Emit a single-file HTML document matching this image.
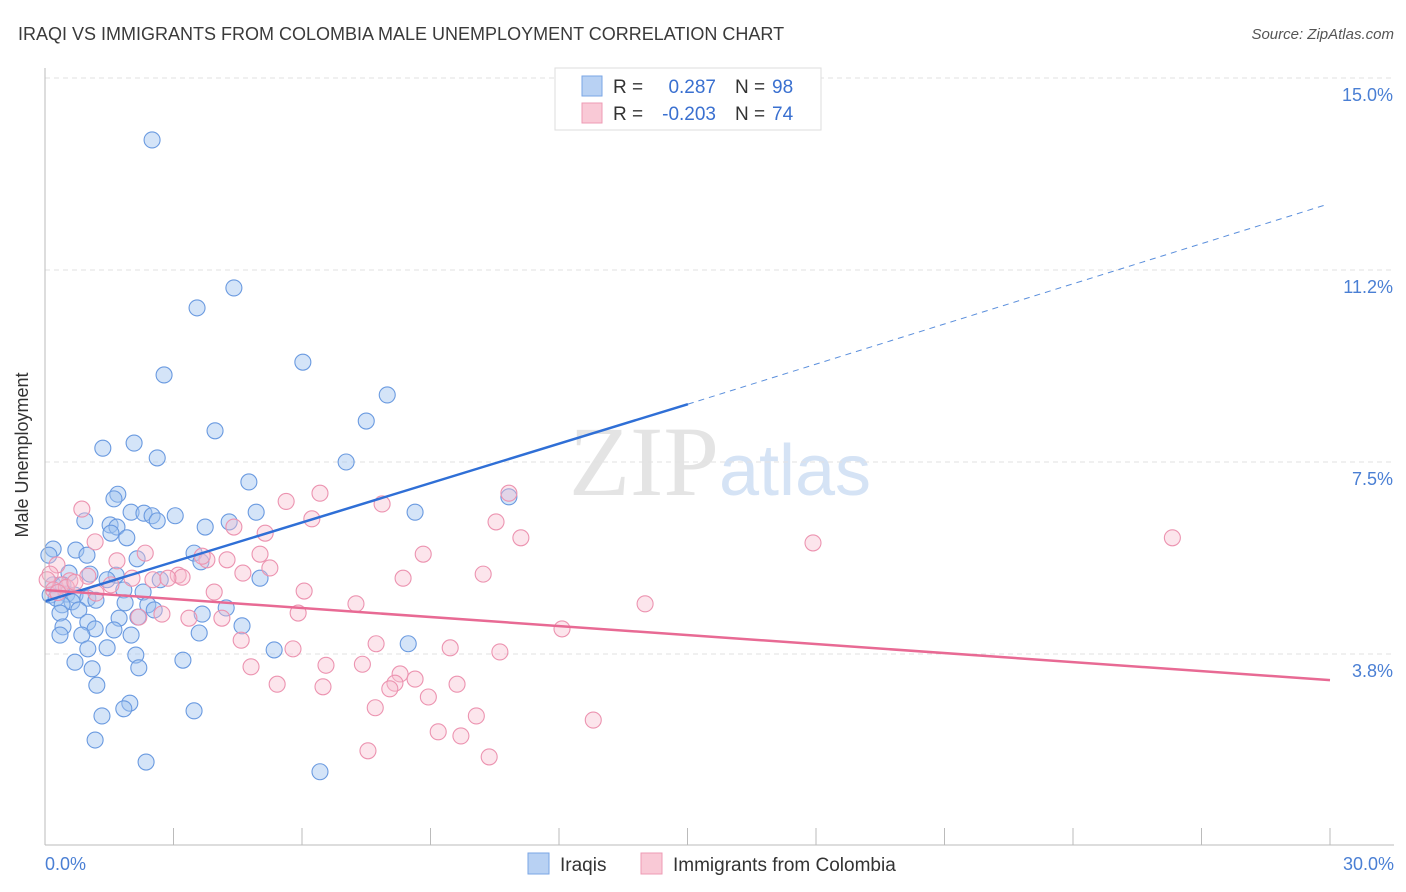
<!DOCTYPE html>
<html><head><meta charset="utf-8"><style>
body{margin:0;background:#fff;font-family:"Liberation Sans",sans-serif;}
svg{display:block}
</style></head><body>
<svg id="chart" width="1406" height="892" xmlns="http://www.w3.org/2000/svg">
<text x="18" y="40" font-size="18" fill="#3a3a3a">IRAQI VS IMMIGRANTS FROM COLOMBIA MALE UNEMPLOYMENT CORRELATION CHART</text>
<text x="1394" y="39" font-size="15" fill="#555" text-anchor="end" font-style="italic">Source: ZipAtlas.com</text>
<text x="28" y="455" font-size="18" fill="#333" text-anchor="middle" transform="rotate(-90 28 455)">Male Unemployment</text>
<text x="720" y="495" font-size="100" fill="#e4e4e4" text-anchor="middle" font-family="Liberation Serif,serif">ZIP<tspan fill="#d5e3f5" font-family="Liberation Sans,sans-serif" font-size="72">atlas</tspan></text>
<g id="grid"></g><g id="pts"></g><g id="lines"></g>
<line x1="45" y1="68" x2="45" y2="845" stroke="#bbb"/>
<line x1="45" y1="845" x2="1394" y2="845" stroke="#bbb"/>
<text x="45" y="870" font-size="18" fill="#4a7fd4">0.0%</text>
<text x="1394" y="870" font-size="18" fill="#4a7fd4" text-anchor="end">30.0%</text>
<g>
<rect x="555" y="68" width="266" height="62" fill="#fff" stroke="#ddd"/>
<rect x="582" y="76" width="20" height="20" fill="#b8d1f3" stroke="#7aa6e6"/>
<rect x="582" y="103" width="20" height="20" fill="#f9c9d6" stroke="#ee9bb4"/>
<text x="613" y="93" font-size="19" fill="#333">R =</text><text x="716" y="93" font-size="19" fill="#3a70d0" text-anchor="end">0.287</text>
<text x="735" y="93" font-size="19" fill="#333">N =</text><text x="772" y="93" font-size="19" fill="#3a70d0">98</text>
<text x="613" y="120" font-size="19" fill="#333">R =</text><text x="716" y="120" font-size="19" fill="#3a70d0" text-anchor="end">-0.203</text>
<text x="735" y="120" font-size="19" fill="#333">N =</text><text x="772" y="120" font-size="19" fill="#3a70d0">74</text>
</g>
<g>
<rect x="528" y="853" width="21" height="21" fill="#b8d1f3" stroke="#7aa6e6"/>
<text x="560" y="871" font-size="19" fill="#333">Iraqis</text>
<rect x="641" y="853" width="21" height="21" fill="#f9c9d6" stroke="#ee9bb4"/>
<text x="673" y="871" font-size="19" fill="#333">Immigrants from Colombia</text>
</g>
</svg>
<script>
const yTicks=[3.8,7.5,11.2,15.0];
const yTickVals=[3.75,7.5,11.25,15.0];
const xTicks=[0,3,6,9,12,15,18,21,24,27,30];
const iraqiX=[2.50,4.41,3.55,6.02,2.78,7.99,7.50,3.97,2.08,1.35,2.62,7.03,4.76,1.70,1.61,10.83,8.64,4.93,2.01,2.31,2.50,3.04,2.62,0.93,4.30,3.74,1.52,1.68,1.54,1.91,0.19,0.72,0.09,0.98,2.15,3.48,3.64,0.56,1.05,1.66,5.02,1.45,0.19,0.42,2.69,1.84,2.29,0.51,0.70,0.12,0.26,1.00,1.19,0.63,0.40,1.87,2.40,2.55,4.23,0.35,0.79,3.67,1.73,2.17,1.00,0.42,1.17,4.60,0.86,0.35,1.61,2.01,3.60,8.48,5.35,1.00,1.45,2.12,0.70,3.22,1.10,2.19,1.21,1.98,1.33,1.84,3.48,1.17,2.36,6.42];
const iraqiY=[13.79,10.90,10.51,9.45,9.20,8.81,8.30,8.11,7.87,7.77,7.58,7.50,7.11,6.87,6.78,6.82,6.52,6.52,6.52,6.50,6.45,6.45,6.35,6.35,6.33,6.23,6.27,6.23,6.11,6.02,5.80,5.78,5.68,5.68,5.61,5.72,5.55,5.33,5.31,5.29,5.23,5.20,5.10,5.10,5.20,5.00,4.96,4.92,4.90,4.90,4.84,4.84,4.80,4.77,4.71,4.75,4.71,4.61,4.65,4.55,4.61,4.53,4.45,4.47,4.37,4.28,4.24,4.30,4.12,4.12,4.22,4.12,4.16,3.95,3.83,3.85,3.87,3.73,3.59,3.63,3.46,3.48,3.14,2.79,2.54,2.68,2.64,2.07,1.64,1.45];
const colX=[0.86,6.42,5.63,6.23,7.87,10.83,10.53,11.11,4.41,5.14,1.17,17.93,26.32,2.34,3.78,3.67,4.25,5.02,8.83,1.68,0.28,5.25,3.11,3.20,4.62,1.00,2.03,8.36,10.23,0.12,0.58,2.52,2.87,1.54,0.37,6.05,3.95,1.19,14.01,7.26,5.91,2.73,3.36,4.13,2.19,12.07,4.58,7.73,9.46,10.62,5.79,7.41,6.56,4.81,8.29,8.64,8.17,9.62,5.42,6.49,8.05,8.95,7.71,10.07,12.80,9.18,9.71,7.54,10.37,0.05,0.2,0.5,0.3,0.7];
const colY=[6.58,6.89,6.73,6.39,6.68,6.89,6.33,6.02,6.23,6.11,5.94,5.92,6.02,5.72,5.59,5.66,5.59,5.70,5.70,5.57,5.49,5.43,5.29,5.25,5.33,5.27,5.23,5.23,5.31,5.31,5.18,5.20,5.23,5.10,5.10,4.98,4.96,4.94,4.73,4.73,4.55,4.53,4.45,4.45,4.47,4.24,4.02,3.95,3.87,3.79,3.85,3.55,3.53,3.50,3.36,3.26,3.18,3.16,3.16,3.11,3.07,2.91,2.70,2.54,2.46,2.23,2.15,1.86,1.74,5.2,5.0,5.05,4.95,5.15];
const iraqiTrend=[4.78,8.63,12.52];
const iraqiTrendX=[0,15.01,29.89];
const colTrend=[5.0,3.24];
const colTrendX=[0,30];
const NS='http://www.w3.org/2000/svg';
const xs=v=>45+v/30*1285;
const ys=v=>654-(v-3.75)*51.2;
function mk(tag,attrs,parent){const e=document.createElementNS(NS,tag);for(const k in attrs)e.setAttribute(k,attrs[k]);parent.appendChild(e);return e;}
const grid=document.getElementById('grid');
yTickVals.forEach((v,i)=>{
 const l=mk('line',{x1:45,x2:1394,y1:ys(v),y2:ys(v),stroke:'#e2e2e2','stroke-dasharray':'5,4'},grid);
 
 
 const t=mk('text',{x:1393,y:ys(v)+23,'font-size':18,fill:'#4a7fd4','text-anchor':'end'},grid);
 t.textContent=yTicks[i].toFixed(1)+'%';
 
 
});
xTicks.forEach(v=>{
 const l=mk('line',{x1:xs(v),x2:xs(v),y1:828,y2:845,stroke:'#bbb'},grid);
 
 
});
const pts=document.getElementById('pts');
iraqiX.forEach((x,i)=>{
 const c=mk('circle',{cx:xs(x),cy:ys(iraqiY[i]),r:8,fill:'rgba(160,196,240,0.45)',stroke:'#6a9ae0','stroke-width':1.1},pts);
 
 
});
colX.forEach((x,i)=>{
 const c=mk('circle',{cx:xs(x),cy:ys(colY[i]),r:8,fill:'rgba(248,190,208,0.4)',stroke:'#ec93b0','stroke-width':1.1},pts);
 
 
});
const lines=document.getElementById('lines');
let l1=mk('line',{x1:xs(iraqiTrendX[0]),y1:ys(iraqiTrend[0]),x2:xs(iraqiTrendX[1]),y2:ys(iraqiTrend[1]),stroke:'#2f6fd6','stroke-width':2.5},lines);


let l2=mk('line',{x1:xs(iraqiTrendX[1]),y1:ys(iraqiTrend[1]),x2:xs(iraqiTrendX[2]),y2:ys(iraqiTrend[2]),stroke:'#5b8fdc','stroke-width':1,'stroke-dasharray':'6,5'},lines);


let l3=mk('line',{x1:xs(colTrendX[0]),y1:ys(colTrend[0]),x2:xs(colTrendX[1]),y2:ys(colTrend[1]),stroke:'#e86a94','stroke-width':2.5},lines);


</script>
</body></html>
